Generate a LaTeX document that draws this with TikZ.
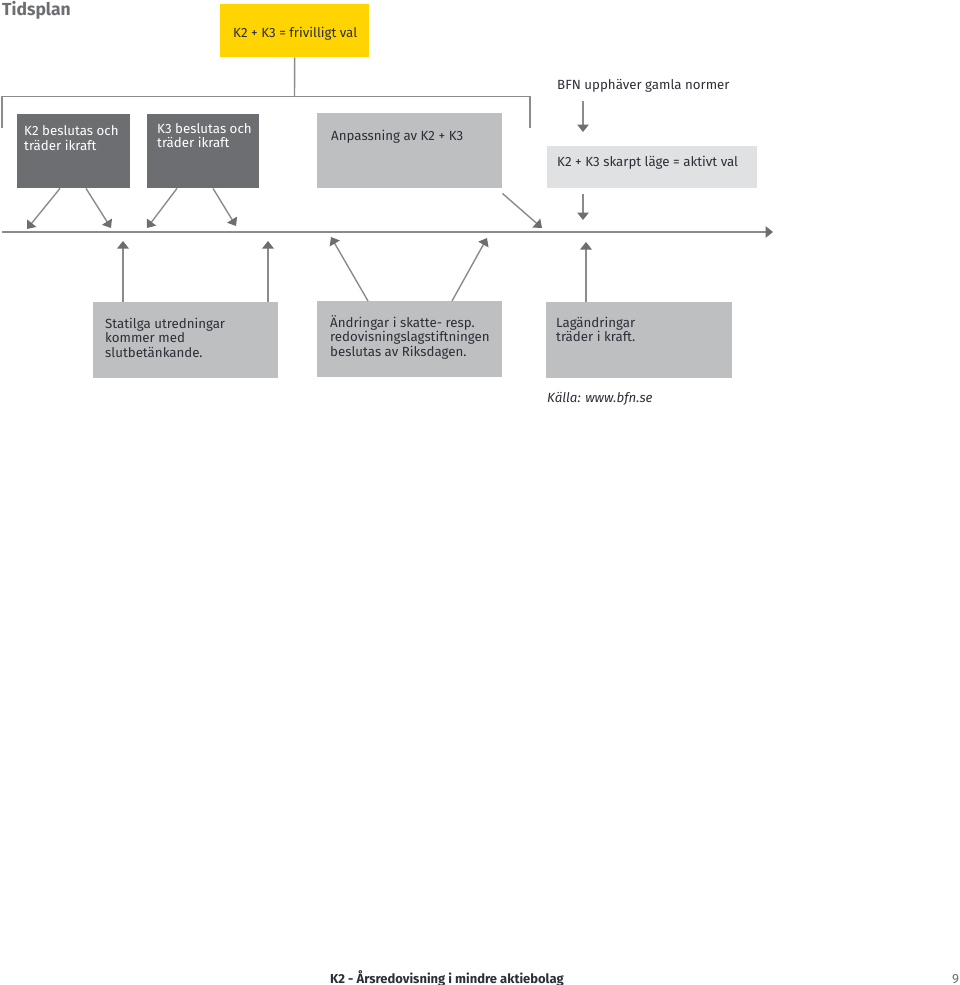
\documentclass[tikz,border=0pt]{standalone}
\usepackage{fontspec}
\setmainfont{Fira Sans}
\usetikzlibrary{arrows.meta}
\definecolor{eydark}{HTML}{6D6E71}
\definecolor{eymid}{HTML}{BEBFC1}
\definecolor{eylight}{HTML}{E0E1E2}
\definecolor{eyyel}{HTML}{FFD400}
\definecolor{eyline}{HTML}{8A8B8D}
\definecolor{eytxt}{HTML}{2E2E38}
\tikzset{%
    box/.style={rectangle, anchor=north west, inner sep=0pt, draw=none},
    txt/.style={anchor=base west, inner sep=0pt, align=left, text=eytxt, font=\fontsize{13.3}{14.5}\selectfont},
    lin/.style={line width=1.4pt, draw=eyline},
    pra/.style={line width=1.4pt, draw=eyline, -{Triangle[length=7.5pt, width=11.5pt, color=eydark]}}
}

\begin{document}
\begin{tikzpicture}[x=1pt,y=-1pt]
    \useasboundingbox (0,0) rectangle (960,985);
    \node[txt,text=eydark,font=\fontsize{17.5}{19}\selectfont\bfseries] (title) at (2,16) {Tidsplan};
    \node[box,fill=eyyel,minimum width=149pt,minimum height=53pt] (val) at (220,4) {};
    \node[txt] (valt) at (233,37) {K2 + K3 = frivilligt val};
    \coordinate (bl) at (2,128);
    \coordinate (bt) at (294.5,96.5);
    \coordinate (br) at (530,128);
    \draw [lin] (val.south)--(bt);
    \draw [lin] (bl)|-(bt)-|(br);
    \node[box,fill=eydark,minimum width=113pt,minimum height=74pt] (k2) at (17,114) {};
    \node[txt,text=white] (k2t) at (24,150) {K2 beslutas och\\träder ikraft};
    \node[box,fill=eydark,minimum width=112pt,minimum height=74pt] (k3) at (147,114) {};
    \node[txt,text=white] (k3t) at (157,147.5) {K3 beslutas och\\träder ikraft};
    \node[box,fill=eymid,minimum width=185pt,minimum height=75pt] (anp) at (317,113) {};
    \node[txt] (anpt) at (331,140) {Anpassning av K2 + K3};
    \node[txt] (bfn) at (557,89) {BFN upphäver gamla normer};
    \node[box,fill=eylight,minimum width=210pt,minimum height=42pt] (skarp) at (547,146) {};
    \node[txt] (skarpt) at (557,166) {K2 + K3 skarpt läge = aktivt val};
    \coordinate (t0) at (2,232);
    \coordinate (t1) at (773,232);
    \draw [pra] (t0)--(t1);
    \coordinate (k2a) at (27,229);
    \coordinate (k2b) at (111,228);
    \coordinate (k3a) at (147,228);
    \coordinate (k3b) at (236,226);
    \coordinate (anpa) at (542,228);
    \coordinate (bfna) at (583,132);
    \coordinate (skarpa) at (583,220);
    \draw [pra] ([xshift=43pt]k2.south west)--(k2a);
    \draw [pra] ([xshift=69pt]k2.south west)--(k2b);
    \draw [pra] ([xshift=30pt]k3.south west)--(k3a);
    \draw [pra] ([xshift=66pt]k3.south west)--(k3b);
    \draw [pra] ([yshift=-5pt]anp.south east)--(anpa);
    \draw [pra] (583,101)--(bfna);
    \draw [pra] ([xshift=36pt,yshift=-6pt]skarp.south west)--(skarpa);
    \node[box,fill=eymid,minimum width=185pt,minimum height=76pt] (stat) at (93,302) {};
    \node[txt] (statt) at (105,357) {Statilga utredningar\\kommer med\\slutbetänkande.};
    \node[box,fill=eymid,minimum width=185pt,minimum height=76pt] (andr) at (317,301) {};
    \node[txt] (andrt) at (330,356) {Ändringar i skatte- resp.\\redovisningslagstiftningen\\beslutas av Riksdagen.};
    \node[box,fill=eymid,minimum width=186pt,minimum height=76pt] (lag) at (546,302) {};
    \node[txt] (lagt) at (556,341.5) {Lagändringar\\träder i kraft.};
    \coordinate (stata) at (123,241);
    \coordinate (statb) at (268,241);
    \coordinate (andra) at (331,237);
    \coordinate (andrb) at (487,238);
    \coordinate (laga) at (586,242);
    \draw [pra] ([xshift=30pt]stat.north west)--(stata);
    \draw [pra] ([xshift=175pt]stat.north west)--(statb);
    \draw [pra] ([xshift=51pt]andr.north west)--(andra);
    \draw [pra] ([xshift=135pt]andr.north west)--(andrb);
    \draw [pra] ([xshift=40pt]lag.north west)--(laga);
    \node[txt,font=\fontsize{13.3}{14.5}\selectfont\itshape] (kalla) at (547,402) {Källa: www.bfn.se};
    \node[txt,font=\fontsize{13}{14.5}\selectfont\bfseries] (foot) at (330,983) {K2 - Årsredovisning i mindre aktiebolag};
    \node[txt,text=eydark] (page) at (952,983) {9};
\end{tikzpicture}
\end{document}
